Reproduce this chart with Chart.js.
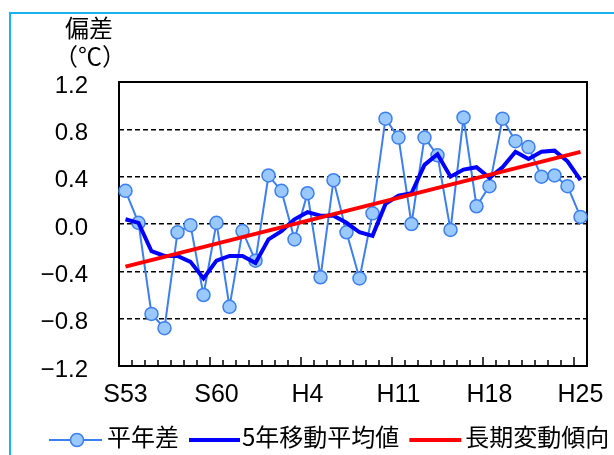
<!DOCTYPE html>
<html><head><meta charset="utf-8">
<script src="https://cdn.jsdelivr.net/npm/chart.js@4.4.1/dist/chart.umd.min.js"></script>
<style>html,body{margin:0;padding:0;background:#fff;overflow:hidden}#wrap{position:relative;width:614px;height:455px}</style>
</head><body><div id="wrap"><canvas id="c" width="614" height="455"></canvas></div>
<script>
const years = ['S53','S54','S55','S56','S57','S58','S59','S60','S61','S62','S63',
  'H1','H2','H3','H4','H5','H6','H7','H8','H9','H10','H11','H12','H13','H14','H15',
  'H16','H17','H18','H19','H20','H21','H22','H23','H24','H25'];
const anomaly = [0.28, 0.01, -0.76, -0.88, -0.07, -0.01, -0.60, 0.01, -0.70, -0.06,
  -0.31, 0.41, 0.28, -0.13, 0.26, -0.45, 0.37, -0.07, -0.46, 0.09,
  0.89, 0.73, 0.00, 0.73, 0.58, -0.05, 0.90, 0.15, 0.32, 0.89,
  0.70, 0.65, 0.40, 0.41, 0.32, 0.06];
const movingAvg = [0.04, 0.01, -0.23, -0.27, -0.27, -0.32, -0.46, -0.31, -0.27, -0.27,
  -0.33, -0.13, -0.06, 0.04, 0.10, 0.07, 0.07, 0.01, -0.07, -0.10,
  0.17, 0.24, 0.26, 0.50, 0.59, 0.40, 0.46, 0.48, 0.39, 0.48,
  0.61, 0.55, 0.61, 0.62, 0.53, 0.37];
const trendYears = ['S53', 'H25'];
const trendValues = [-0.36, 0.61];
const xTickLabels = ['S53','S60','H4','H11','H18','H25'];
const yTicks = [-1.2, -0.8, -0.4, 0.0, 0.4, 0.8, 1.2];
const seriesNames = ['平年差', '5年移動平均値', '長期変動傾向'];
const yTitle = ['偏差', '（℃）'];

const CJK = '"Noto Sans CJK JP", "Noto Sans CJK SC", sans-serif';
const LAT = '"Liberation Sans", Arial, sans-serif';

const deco = {
  id: 'deco',
  beforeDraw(chart) {
    const c = chart.ctx;
    c.save();
    c.fillStyle = '#fff';
    c.fillRect(0, 0, chart.width, chart.height);
    c.strokeStyle = '#1ab2f0';
    c.lineWidth = 2;
    c.strokeRect(10, 13, chart.width + 40, chart.height + 40);
    c.restore();
  },
  beforeDatasetsDraw(chart) {
    const c = chart.ctx, a = chart.chartArea, x = chart.scales.x;
    c.save();
    c.strokeStyle = '#000';
    c.lineWidth = 2;
    c.strokeRect(a.left, a.top, a.right - a.left, a.bottom - a.top);
    const half = (x.getPixelForValue(1) - x.getPixelForValue(0)) / 2;
    c.lineWidth = 1.5;
    c.beginPath();
    for (let i = 1; i < years.length; i++) {
      const px = x.getPixelForValue(i) - half;
      const h = (i % 7 === 0) ? 9 : 6;
      c.moveTo(px, a.bottom);
      c.lineTo(px, a.bottom - h);
    }
    c.stroke();
    c.restore();
  },
  afterDraw(chart) {
    const c = chart.ctx, ds = chart.data.datasets;
    c.save();
    // axis title
    c.fillStyle = '#000';
    c.textAlign = 'center';
    c.textBaseline = 'middle';
    c.font = '24px ' + CJK;
    c.fillText(yTitle[0], 89, 28);
    c.fillText(yTitle[1], 90, 56);
    // legend
    c.textAlign = 'left';
    c.font = '24px ' + CJK;
    const ly = 440, ty = 437;
    let x0 = 49;
    // item 1
    c.strokeStyle = ds[0].borderColor; c.lineWidth = 2;
    c.beginPath(); c.moveTo(x0, ly); c.lineTo(x0 + 53, ly); c.stroke();
    c.beginPath(); c.arc(x0 + 28, ly, 6.5, 0, Math.PI * 2);
    c.fillStyle = ds[0].pointBackgroundColor; c.fill();
    c.lineWidth = 1.5; c.strokeStyle = ds[0].pointBorderColor; c.stroke();
    x0 += 58;
    c.fillStyle = '#000';
    c.fillText(ds[0].label, x0, ty);
    x0 += c.measureText(ds[0].label).width + 10;
    // item 2
    c.strokeStyle = ds[1].borderColor; c.lineWidth = 4;
    c.beginPath(); c.moveTo(x0, ly); c.lineTo(x0 + 51, ly); c.stroke();
    x0 += 53;
    c.fillText(ds[1].label, x0, ty);
    x0 += c.measureText(ds[1].label).width + 10;
    // item 3
    c.strokeStyle = ds[2].borderColor; c.lineWidth = 4;
    c.beginPath(); c.moveTo(x0, ly); c.lineTo(x0 + 52, ly); c.stroke();
    x0 += 56;
    c.fillText(ds[2].label, x0, ty);
    c.restore();
  }
};

new Chart(document.getElementById('c'), {
  type: 'line',
  data: {
    labels: years,
    datasets: [
      {
        label: seriesNames[0],
        data: anomaly,
        borderColor: '#3d7ff0',
        borderWidth: 2,
        pointRadius: 6.5,
        pointBackgroundColor: '#99c9ff',
        pointBorderColor: '#3d7ff0',
        pointBorderWidth: 1.5,
        tension: 0,
        clip: false,
        order: 3
      },
      {
        label: seriesNames[1],
        data: movingAvg,
        borderColor: '#0000ff',
        borderWidth: 4,
        pointRadius: 0,
        tension: 0,
        clip: false,
        order: 2
      },
      {
        label: seriesNames[2],
        data: trendYears.map((y, i) => ({x: y, y: trendValues[i]})),
        borderColor: '#ff0000',
        borderWidth: 4,
        pointRadius: 0,
        tension: 0,
        clip: false,
        order: 1
      }
    ]
  },
  options: {
    responsive: false,
    animation: false,
    events: [],
    layout: {padding: {left: 0, right: 27, top: 82, bottom: 39}},
    plugins: {legend: {display: false}, tooltip: {enabled: false}, title: {display: false}},
    scales: {
      x: {
        type: 'category',
        offset: true,
        grid: {display: false, drawTicks: false, offset: true},
        border: {display: false},
        ticks: {
          autoSkip: false, maxRotation: 0, minRotation: 0, padding: 14,
          color: '#000', font: {family: LAT, size: 25},
          callback: (v, i) => xTickLabels.includes(years[i]) ? years[i] : ''
        },
        afterFit: s => { s.height = 50; s.paddingLeft = 0; s.paddingRight = 0; s.paddingTop = 0; s.paddingBottom = 0; }
      },
      y: {
        type: 'linear',
        min: -1.2, max: 1.2,
        afterBuildTicks: s => { s.ticks = yTicks.map(v => ({value: v})); },
        grid: {
          drawTicks: false,
          lineWidth: 1.5,
          color: ctx => (ctx.tick && Math.abs(Math.abs(ctx.tick.value) - 1.2) < 1e-6) ? 'rgba(0,0,0,0)' : '#000'
        },
        border: {display: false, dash: [5, 3]},
        ticks: {
          autoSkip: false,
          padding: 31, color: '#000', font: {family: LAT, size: 24, lineHeight: '8px'},
          callback: v => ['', v.toFixed(1).replace('-', '\u2212')]
        },
        afterFit: s => { s.width = 119; s.paddingTop = 0; s.paddingBottom = 0; s.paddingLeft = 0; s.paddingRight = 0; }
      }
    }
  },
  plugins: [deco]
});
</script>
</body></html>
